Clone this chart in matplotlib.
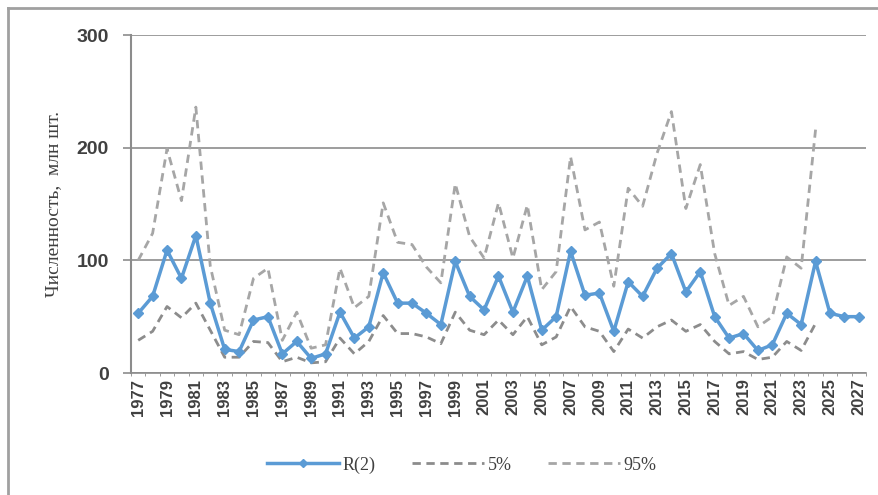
import matplotlib.pyplot as plt
from matplotlib.lines import Line2D
import numpy as np

# data
years = list(range(1977, 2028))
r2 = [53, 68, 109, 84, 122, 62, 21, 19, 47, 50, 17, 28, 13, 17, 54, 31, 41,
      89, 62, 62, 53, 43, 99, 68, 56, 86, 54, 86, 38, 50, 108, 69, 71, 37,
      81, 68, 93, 106, 72, 90, 50, 31, 35, 20, 25, 53, 43, 99, 53, 50, 50]
p5 = [29, 37, 59, 49, 62, 38, 14, 14, 28, 27, 10, 14, 9, 10, 31, 17, 28,
      51, 35, 35, 32, 26, 54, 38, 34, 47, 34, 50, 25, 32, 59, 41, 37, 19,
      39, 31, 41, 47, 37, 43, 28, 17, 19, 12, 14, 28, 20, 44]
p95 = [100, 124, 199, 153, 236, 95, 38, 34, 84, 93, 29, 54, 22, 25, 93, 58,
       68, 151, 116, 114, 94, 80, 168, 121, 102, 151, 102, 149, 74, 90, 192,
       127, 134, 77, 164, 148, 195, 232, 146, 185, 106, 60, 68, 41, 50, 103,
       93, 216]

plt.rcParams['font.family'] = ['Liberation Serif', 'DejaVu Serif']

fig = plt.figure(figsize=(8.79, 4.95), dpi=100)
ax = fig.add_axes([131 / 879, 1 - 373 / 495, 735 / 879, 338 / 495])

x = np.arange(len(years))
ax.plot(x, r2, color='#5b9bd5', lw=2.5, marker='D', ms=5, label='R(2)', zorder=3)
ax.plot(x[:len(p5)], p5, color='#8c8c8c', lw=2, ls=(0, (3, 2)), label='5%')
ax.plot(x[:len(p95)], p95, color='#a6a6a6', lw=2, ls=(0, (3, 2)), label='95%')

ax.set_xlim(-0.5, len(years) - 0.5)
ax.set_ylim(0, 300)
ax.set_yticks([0, 100, 200, 300])
ax.yaxis.grid(True, color='#8c8c8c', lw=1.2)
ax.set_axisbelow(True)

for s in ['top', 'right']:
    ax.spines[s].set_visible(False)
ax.spines['left'].set_color('#8c8c8c')
ax.spines['bottom'].set_color('#8c8c8c')
ax.spines['left'].set_linewidth(1.5)
ax.spines['bottom'].set_linewidth(1.2)

ax.set_xticks(x[::2])
ax.set_xticklabels([str(y) for y in years[::2]], rotation=90,
                   family='Liberation Sans', fontsize=12, fontweight='bold',
                   color='#404040')
ax.set_xticks(np.arange(-0.5, len(years), 1), minor=True)
ax.tick_params(axis='x', which='major', length=0, pad=4)
ax.tick_params(axis='x', which='minor', length=2, color='#8c8c8c')
ax.tick_params(axis='y', length=6, color='#8c8c8c', width=1.2, pad=10)
for t in ax.get_yticklabels():
    t.set_family('Liberation Sans')
    t.set_fontweight('bold')
    t.set_fontsize(14)
    t.set_color('#404040')

ax.set_ylabel('Численность,  млн шт.', fontsize=14, color='#404040', labelpad=10)

fig.legend(loc='center', bbox_to_anchor=(462 / 879, 1 - 465 / 495), ncol=3,
           frameon=False, fontsize=13, handlelength=4, columnspacing=2,
           handletextpad=0.2, markerscale=0.9, labelcolor='#404040')

# outer chart frame
fig.add_artist(Line2D([8 / 879, 8 / 879], [0, 1 - 8 / 495], transform=fig.transFigure,
                      color='#a0a0a0', lw=2))
fig.add_artist(Line2D([8 / 879, 1], [1 - 8 / 495, 1 - 8 / 495], transform=fig.transFigure,
                      color='#a0a0a0', lw=2))

fig.savefig('out.png', dpi=100)
